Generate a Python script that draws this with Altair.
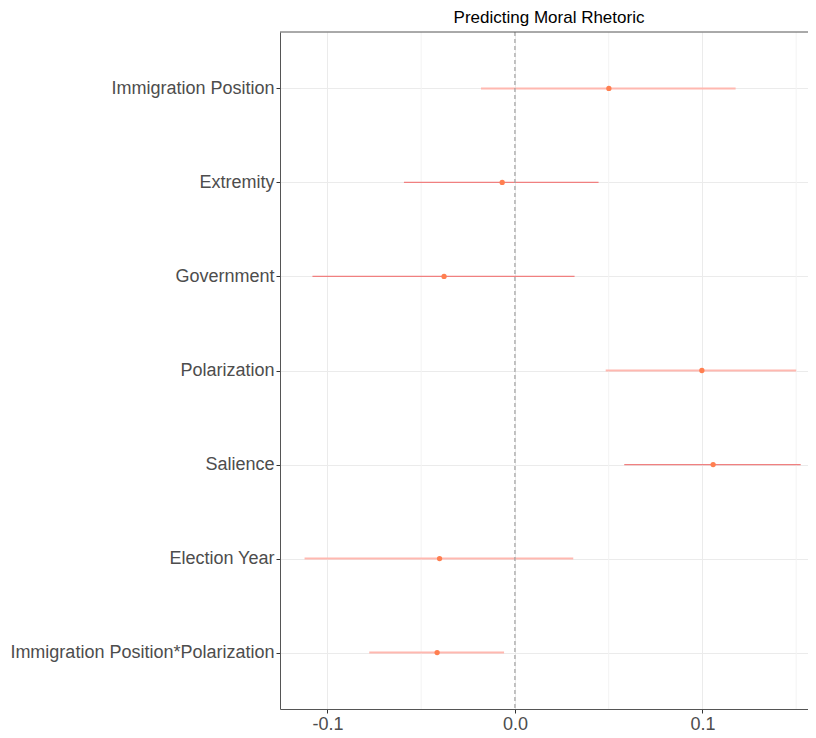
import altair as alt
import pandas as pd

terms = ["Immigration Position", "Extremity", "Government", "Polarization",
         "Salience", "Election Year", "Immigration Position*Polarization"]
estimate = [0.0501, -0.0068, -0.0378, 0.0997, 0.1057, -0.0402, -0.0415]
lower = [-0.0181, -0.0592, -0.1080, 0.0484, 0.0583, -0.1122, -0.0777]
upper = [0.1177, 0.0446, 0.0318, 0.1500, 0.1524, 0.0311, -0.0058]
group = ["light", "dark", "dark", "light", "dark", "light", "light"]

major_ticks = [-0.1, 0.0, 0.1]
minor_ticks = [-0.05, 0.05, 0.15]

df = pd.DataFrame({"term": terms, "estimate": estimate, "lower": lower,
                   "upper": upper, "group": group})
minor_df = pd.DataFrame({"v": minor_ticks})
zero_df = pd.DataFrame({"v": [0.0]})

xdom = [-0.1253, 0.1563]
xscale = alt.Scale(domain=xdom, nice=False, zero=False)
yscale = alt.Scale(type="point", padding=0.6, domain=terms)

base_axis_x = alt.Axis(values=major_ticks, format=".1f", title=None,
                       labelExpr="replace(datum.label, '\u2212', '-')",
                       labelFont="Liberation Sans", labelFontSize=18,
                       labelColor="#4D4D4D", tickColor="#333333", tickSize=4,
                       domainColor="#555555", gridColor="#EBEBEB",
                       labelPadding=2)

minor = alt.Chart(minor_df).mark_rule(color="#F3F3F3", strokeWidth=1).encode(
    x=alt.X("v:Q", scale=xscale, axis=base_axis_x)
)

bars = alt.Chart(df).mark_rule().encode(
    x=alt.X("lower:Q", scale=xscale, axis=base_axis_x),
    x2="upper:Q",
    y=alt.Y("term:N", scale=yscale, sort=terms, title=None,
            axis=alt.Axis(labelFont="Liberation Sans", labelFontSize=18,
                          labelColor="#4D4D4D", tickColor="#333333",
                          tickSize=4, domainColor="#555555",
                          gridColor="#EBEBEB", labelPadding=2,
                          labelLimit=400)),
    color=alt.Color("group:N", scale=alt.Scale(domain=["light", "dark"],
                                              range=["#FFB8B0", "#F08080"]),
                    legend=None),
    strokeWidth=alt.StrokeWidth("group:N", scale=alt.Scale(domain=["light", "dark"],
                                                           range=[2, 1.3]),
                                legend=None),
)

zero = alt.Chart(zero_df).mark_rule(color="#A0A0A0", strokeDash=[4, 3],
                                    strokeWidth=1.2).encode(
    x=alt.X("v:Q", scale=xscale)
)

points = alt.Chart(df).mark_circle(color="#FF7F50", opacity=1, size=28).encode(
    x=alt.X("estimate:Q", scale=xscale),
    y=alt.Y("term:N", scale=yscale, sort=terms),
)

top_border = alt.Chart(zero_df).mark_rule(color="#555555", strokeWidth=1).encode(
    x=alt.value(0), x2=alt.value(528), y=alt.value(0)
)

chart = alt.layer(minor, bars, zero, points, top_border).properties(
    width=528, height=677,
    title=alt.Title("Predicting Moral Rhetoric", font="Liberation Sans",
                    fontSize=17, fontWeight="normal", color="#000000",
                    anchor="middle", offset=4, dx=5),
    padding={"left": 272, "top": 24, "right": 0, "bottom": 29},
    autosize=alt.AutoSizeParams(type="none"),
).configure_view(stroke=None).configure_axis(grid=True)

chart.save("out.html", embed_options={"renderer": "svg", "actions": False})
